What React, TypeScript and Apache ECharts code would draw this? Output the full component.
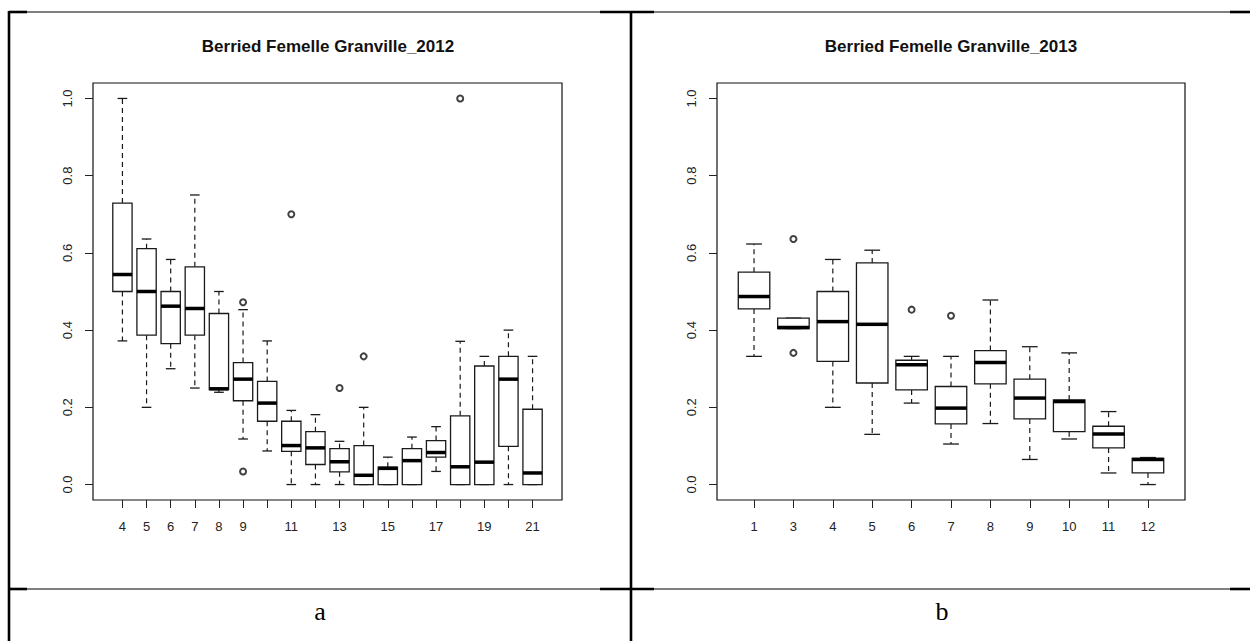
import React, { useEffect, useRef } from "react";
import * as echarts from "echarts";

// ---------- 2012 ----------
const cats2012 = ["4", "5", "6", "7", "8", "9", "10", "11", "12", "13", "14", "15", "16", "17", "18", "19", "20", "21"];
const lower2012 = [0.372, 0.2, 0.3, 0.25, 0.239, 0.118, 0.087, 0.0, 0.0, 0.0, 0.0, 0.0, 0.0, 0.034, 0.0, 0.0, 0.0, 0.0];
const q1_2012 = [0.5, 0.387, 0.365, 0.387, 0.246, 0.217, 0.164, 0.086, 0.052, 0.033, 0.0, 0.0, 0.0, 0.071, 0.0, 0.0, 0.099, 0.0];
const median2012 = [0.544, 0.5, 0.462, 0.456, 0.248, 0.273, 0.211, 0.101, 0.095, 0.059, 0.024, 0.042, 0.062, 0.083, 0.046, 0.058, 0.273, 0.03];
const q3_2012 = [0.729, 0.611, 0.5, 0.564, 0.443, 0.316, 0.267, 0.164, 0.137, 0.093, 0.101, 0.045, 0.093, 0.114, 0.178, 0.307, 0.332, 0.195];
const upper2012 = [1.0, 0.636, 0.583, 0.75, 0.5, 0.453, 0.372, 0.192, 0.181, 0.112, 0.2, 0.071, 0.123, 0.15, 0.371, 0.332, 0.4, 0.332];
const outlierCats2012 = ["9", "9", "11", "13", "14", "18"];
const outlierVals2012 = [0.472, 0.034, 0.7, 0.25, 0.332, 1.0];
const shownLabels2012 = ["4", "5", "6", "7", "8", "9", "11", "13", "15", "17", "19", "21"];

// ---------- 2013 ----------
const cats2013 = ["1", "3", "4", "5", "6", "7", "8", "9", "10", "11", "12"];
const lower2013 = [0.332, 0.404, 0.2, 0.13, 0.211, 0.105, 0.158, 0.065, 0.118, 0.03, 0.0];
const q1_2013 = [0.455, 0.404, 0.319, 0.263, 0.245, 0.157, 0.261, 0.17, 0.137, 0.095, 0.03];
const median2013 = [0.487, 0.407, 0.422, 0.415, 0.31, 0.198, 0.316, 0.224, 0.215, 0.131, 0.065];
const q3_2013 = [0.55, 0.431, 0.5, 0.574, 0.322, 0.254, 0.347, 0.273, 0.219, 0.151, 0.068];
const upper2013 = [0.623, 0.431, 0.583, 0.607, 0.332, 0.332, 0.478, 0.357, 0.341, 0.189, 0.07];
const outlierCats2013 = ["3", "3", "6", "7"];
const outlierVals2013 = [0.636, 0.341, 0.453, 0.437];
const shownLabels2013 = ["1", "3", "4", "5", "6", "7", "8", "9", "10", "11", "12"];

const yTicks = [0, 0.2, 0.4, 0.6, 0.8, 1.0];
const title2012 = "Berried Femelle Granville_2012";
const title2013 = "Berried Femelle Granville_2013";

const SANS = "'Liberation Sans', Arial, sans-serif";
const SERIF = "'Liberation Serif', 'Times New Roman', serif";

function boxRows(lo: number[], q1: number[], med: number[], q3: number[], hi: number[]) {
  return lo.map((_, i) => [i + 1, lo[i], q1[i], med[i], q3[i], hi[i]]);
}

function outlierRows(cats: string[], oc: string[], ov: number[]) {
  return oc.map((c, i) => [cats.indexOf(c) + 1, ov[i]]);
}

const renderBox = (params: any, api: any) => {
  const x = api.value(0);
  const lo = api.value(1);
  const q1 = api.value(2);
  const med = api.value(3);
  const q3 = api.value(4);
  const hi = api.value(5);
  const hw = 0.4;
  const cw = 0.2;
  const cx = api.coord([x, 0])[0];
  const left = api.coord([x - hw, 0])[0];
  const right = api.coord([x + hw, 0])[0];
  const capL = api.coord([x - cw, 0])[0];
  const capR = api.coord([x + cw, 0])[0];
  const yLo = api.coord([x, lo])[1];
  const yQ1 = api.coord([x, q1])[1];
  const yMed = api.coord([x, med])[1];
  const yQ3 = api.coord([x, q3])[1];
  const yHi = api.coord([x, hi])[1];
  const stroke = "#1a1a1a";
  return {
    type: "group",
    children: [
      { type: "line", shape: { x1: cx, y1: yQ3, x2: cx, y2: yHi }, style: { stroke, lineWidth: 1.2, lineDash: [5, 4] } },
      { type: "line", shape: { x1: cx, y1: yQ1, x2: cx, y2: yLo }, style: { stroke, lineWidth: 1.2, lineDash: [5, 4] } },
      { type: "line", shape: { x1: capL, y1: yHi, x2: capR, y2: yHi }, style: { stroke, lineWidth: 1.3 } },
      { type: "line", shape: { x1: capL, y1: yLo, x2: capR, y2: yLo }, style: { stroke, lineWidth: 1.3 } },
      {
        type: "rect",
        shape: { x: left, y: yQ3, width: right - left, height: yQ1 - yQ3 },
        style: { fill: "#fff", stroke, lineWidth: 1.3 },
      },
      { type: "line", shape: { x1: left, y1: yMed, x2: right, y2: yMed }, style: { stroke: "#000", lineWidth: 3.5 } },
    ],
  };
};

function makeXAxis(gridIndex: number, cats: string[], shown: string[]) {
  const n = cats.length;
  const pad = n * 0.04;
  return {
    type: "value",
    gridIndex,
    min: 0.5 - pad,
    max: n + 0.5 + pad,
    axisLine: { show: false, onZero: false },
    splitLine: { show: false },
    axisTick: {
      show: true,
      length: 8,
      customValues: cats.map((_, i) => i + 1),
      lineStyle: { color: "#222", width: 1 },
    },
    axisLabel: {
      show: true,
      customValues: shown.map((c) => cats.indexOf(c) + 1),
      formatter: (v: number) => cats[Math.round(v) - 1] ?? "",
      margin: 20,
      fontSize: 13,
      color: "#222",
      fontFamily: SANS,
    },
  };
}

function makeYAxis(gridIndex: number) {
  return {
    type: "value",
    gridIndex,
    min: -0.04,
    max: 1.04,
    axisLine: { show: false, onZero: false },
    splitLine: { show: false },
    axisTick: {
      show: true,
      length: 8,
      customValues: yTicks,
      lineStyle: { color: "#222", width: 1 },
    },
    axisLabel: {
      show: true,
      customValues: yTicks,
      rotate: 90,
      formatter: (v: number) => v.toFixed(1),
      margin: 19,
      fontSize: 13,
      color: "#222",
      fontFamily: SANS,
    },
  };
}

export default function App() {
  const ref = useRef<HTMLDivElement>(null);

  useEffect(() => {
    if (!ref.current) return;
    const chart = echarts.init(ref.current, undefined, { renderer: "svg" });
    const thin = { stroke: "#000", lineWidth: 1.2 };
    const thick = { stroke: "#000", lineWidth: 2.6 };
    const option: any = {
      animation: false,
      backgroundColor: "#fff",
      grid: [
        { left: 93, top: 83, width: 469, height: 417, show: true, borderColor: "#111", borderWidth: 1.2, backgroundColor: "transparent" },
        { left: 717, top: 83, width: 468, height: 417, show: true, borderColor: "#111", borderWidth: 1.2, backgroundColor: "transparent" },
      ],
      xAxis: [makeXAxis(0, cats2012, shownLabels2012), makeXAxis(1, cats2013, shownLabels2013)],
      yAxis: [makeYAxis(0), makeYAxis(1)],
      series: [
        {
          type: "custom",
          xAxisIndex: 0,
          yAxisIndex: 0,
          renderItem: renderBox,
          encode: { x: 0, y: [1, 2, 3, 4, 5] },
          data: boxRows(lower2012, q1_2012, median2012, q3_2012, upper2012),
        },
        {
          type: "scatter",
          xAxisIndex: 0,
          yAxisIndex: 0,
          symbol: "emptyCircle",
          symbolSize: 6,
          itemStyle: { color: "#111", borderColor: "#111", borderWidth: 1.2 },
          data: outlierRows(cats2012, outlierCats2012, outlierVals2012),
        },
        {
          type: "custom",
          xAxisIndex: 1,
          yAxisIndex: 1,
          renderItem: renderBox,
          encode: { x: 0, y: [1, 2, 3, 4, 5] },
          data: boxRows(lower2013, q1_2013, median2013, q3_2013, upper2013),
        },
        {
          type: "scatter",
          xAxisIndex: 1,
          yAxisIndex: 1,
          symbol: "emptyCircle",
          symbolSize: 6,
          itemStyle: { color: "#111", borderColor: "#111", borderWidth: 1.2 },
          data: outlierRows(cats2013, outlierCats2013, outlierVals2013),
        },
      ],
      graphic: [
        { type: "text", x: 328, y: 46, style: { text: title2012, font: `bold 17px ${SANS}`, fill: "#111", textAlign: "center", textVerticalAlign: "middle" } },
        { type: "text", x: 951, y: 46, style: { text: title2013, font: `bold 17px ${SANS}`, fill: "#111", textAlign: "center", textVerticalAlign: "middle" } },
        { type: "text", x: 320, y: 611, style: { text: "a", font: `26px ${SERIF}`, fill: "#000", textAlign: "center", textVerticalAlign: "middle" } },
        { type: "text", x: 942, y: 611, style: { text: "b", font: `26px ${SERIF}`, fill: "#000", textAlign: "center", textVerticalAlign: "middle" } },
        // table lines
        { type: "line", shape: { x1: 9, y1: 12, x2: 1250, y2: 12 }, style: thin },
        { type: "line", shape: { x1: 9, y1: 589, x2: 1250, y2: 589 }, style: thin },
        { type: "line", shape: { x1: 9, y1: 11, x2: 9, y2: 641 }, style: thick },
        { type: "line", shape: { x1: 631, y1: 11, x2: 631, y2: 641 }, style: thick },
        { type: "line", shape: { x1: 9, y1: 12, x2: 27, y2: 12 }, style: thick },
        { type: "line", shape: { x1: 9, y1: 589, x2: 27, y2: 589 }, style: thick },
        { type: "line", shape: { x1: 600, y1: 12, x2: 654, y2: 12 }, style: thick },
        { type: "line", shape: { x1: 600, y1: 589, x2: 654, y2: 589 }, style: thick },
        { type: "line", shape: { x1: 1230, y1: 12, x2: 1250, y2: 12 }, style: thick },
        { type: "line", shape: { x1: 1230, y1: 589, x2: 1250, y2: 589 }, style: thick },
      ],
    };
    chart.setOption(option);
    return () => chart.dispose();
  }, []);

  return (
    <div
      ref={ref}
      style={{ position: "absolute", left: 0, top: 0, width: 1250, height: 641, background: "#fff" }}
    />
  );
}
